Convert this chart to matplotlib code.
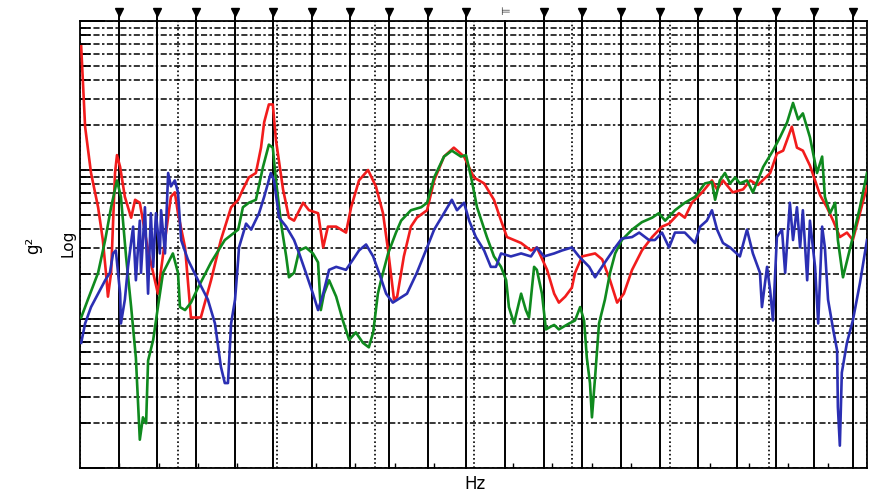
import numpy as np
import matplotlib
matplotlib.use('Agg')
import matplotlib.pyplot as plt
import matplotlib.transforms as mtransforms
from matplotlib.ticker import MultipleLocator, LogLocator, NullFormatter

# spectra: frequency (Hz) and log10(g^2)
red_hz = [3, 8, 13, 28, 46, 58, 66, 71, 79, 89, 94, 102, 114, 130, 140, 152, 173, 198, 216, 231,
          241, 249, 267, 282, 307, 333, 358, 384, 402, 414, 429, 447, 460, 468, 480, 490, 498, 516,
          531, 544, 567, 582, 605, 618, 630, 651, 676, 689, 709, 732, 752, 770, 783, 798, 806, 823,
          841, 856, 882, 900, 925, 950, 976, 1001, 1027, 1052, 1070, 1085, 1121, 1146, 1161, 1187,
          1205, 1217, 1233, 1250, 1258, 1276, 1309, 1327, 1347, 1365, 1382, 1403, 1428, 1454, 1479,
          1497, 1522, 1537, 1555, 1581, 1606, 1619, 1634, 1659, 1685, 1703, 1723, 1754, 1771, 1787,
          1809, 1822, 1837, 1855, 1868, 1881, 1898, 1914, 1931, 1949, 1964, 1982, 2000]
red_log = [-1.17, -1.44, -1.71, -2.02, -2.25, -2.47, -2.69, -2.85, -2.69, -2.02, -1.90, -1.98, -2.18,
           -2.32, -2.20, -2.22, -2.54, -2.83, -2.47, -2.18, -2.15, -2.29, -2.52, -2.99, -2.99, -2.74,
           -2.47, -2.25, -2.20, -2.13, -2.05, -2.02, -1.85, -1.68, -1.56, -1.56, -1.80, -2.13, -2.32,
           -2.34, -2.22, -2.27, -2.29, -2.52, -2.38, -2.38, -2.42, -2.25, -2.07, -2.00, -2.11, -2.29,
           -2.54, -2.87, -2.85, -2.58, -2.38, -2.32, -2.27, -2.07, -1.91, -1.85, -1.91, -2.05, -2.09,
           -2.20, -2.34, -2.45, -2.49, -2.54, -2.52, -2.67, -2.83, -2.89, -2.85, -2.79, -2.69, -2.58,
           -2.56, -2.60, -2.74, -2.89, -2.83, -2.67, -2.54, -2.45, -2.38, -2.36, -2.29, -2.32, -2.22,
           -2.15, -2.07, -2.13, -2.07, -2.15, -2.13, -2.07, -2.10, -2.02, -1.89, -1.87, -1.71, -1.85,
           -1.87, -1.97, -2.07, -2.17, -2.25, -2.34, -2.45, -2.42, -2.47, -2.29, -2.11]

green_hz = [3, 20, 46, 64, 79, 94, 104, 117, 130, 142, 152, 160, 168, 173, 186, 198, 211, 236, 249,
            254, 267, 282, 300, 333, 368, 402, 414, 429, 447, 465, 480, 490, 498, 511, 524, 531, 544,
            557, 574, 592, 605, 612, 620, 633, 651, 668, 684, 701, 719, 734, 745, 757, 765, 783, 803,
            816, 841, 867, 882, 900, 925, 945, 968, 981, 994, 1009, 1034, 1052, 1070, 1083, 1090, 1103,
            1121, 1133, 1141, 1154, 1161, 1174, 1184, 1197, 1205, 1217, 1243, 1258, 1271, 1281, 1288,
            1296, 1301, 1309, 1319, 1334, 1347, 1360, 1377, 1403, 1428, 1454, 1471, 1487, 1512, 1537,
            1563, 1588, 1606, 1614, 1626, 1639, 1652, 1665, 1677, 1695, 1710, 1736, 1761, 1779, 1797,
            1812, 1825, 1837, 1855, 1873, 1886, 1893, 1906, 1919, 1926, 1939, 1952, 1964, 1982, 2000]
green_log = [-2.99, -2.87, -2.69, -2.47, -2.25, -2.07, -2.18, -2.58, -2.92, -3.26, -3.81, -3.66, -3.70,
             -3.28, -3.14, -2.92, -2.69, -2.56, -2.69, -2.92, -2.94, -2.89, -2.79, -2.62, -2.47, -2.40,
             -2.25, -2.22, -2.20, -1.98, -1.83, -1.85, -2.07, -2.36, -2.58, -2.72, -2.69, -2.54, -2.52,
             -2.56, -2.62, -2.94, -2.83, -2.74, -2.85, -3.01, -3.14, -3.09, -3.16, -3.19, -3.09, -2.83,
             -2.74, -2.56, -2.42, -2.34, -2.27, -2.25, -2.22, -2.05, -1.91, -1.87, -1.91, -1.90, -2.05,
             -2.25, -2.45, -2.58, -2.65, -2.74, -2.92, -3.03, -2.83, -2.94, -2.99, -2.65, -2.67, -2.83,
             -3.07, -3.05, -3.04, -3.07, -3.03, -3.01, -2.92, -3.01, -3.26, -3.43, -3.66, -3.39, -3.03,
             -2.87, -2.69, -2.56, -2.47, -2.40, -2.35, -2.32, -2.29, -2.34, -2.27, -2.22, -2.18, -2.09,
             -2.08, -2.20, -2.07, -2.02, -2.09, -2.05, -2.09, -2.07, -2.15, -1.98, -1.87, -1.78, -1.68,
             -1.55, -1.66, -1.62, -1.78, -2.02, -1.91, -2.18, -2.29, -2.22, -2.47, -2.72, -2.58, -2.45,
             -2.25, -2.02]

blue_hz = [3, 13, 28, 46, 64, 76, 84, 91, 102, 104, 114, 122, 135, 142, 152, 155, 165, 173, 180, 186,
           193, 203, 206, 216, 224, 231, 241, 249, 257, 274, 300, 325, 343, 358, 368, 376, 384, 394,
           402, 404, 422, 435, 455, 468, 485, 493, 506, 524, 544, 557, 574, 592, 605, 618, 633, 651,
           676, 694, 709, 727, 745, 760, 778, 795, 831, 856, 882, 900, 925, 945, 958, 976, 989, 1006,
           1027, 1044, 1057, 1070, 1095, 1121, 1146, 1161, 1179, 1205, 1225, 1250, 1268, 1294, 1309,
           1334, 1360, 1377, 1403, 1421, 1446, 1461, 1479, 1497, 1512, 1537, 1563, 1576, 1593, 1606,
           1619, 1634, 1652, 1677, 1695, 1710, 1728, 1733, 1746, 1754, 1761, 1771, 1784, 1792, 1804,
           1812, 1822, 1830, 1837, 1848, 1855, 1868, 1876, 1886, 1893, 1901, 1914, 1924, 1926, 1931,
           1936, 1949, 1964, 1982, 2000]
blue_log = [-3.16, -3.03, -2.92, -2.83, -2.74, -2.69, -2.56, -2.54, -2.83, -3.03, -2.87, -2.65, -2.38,
            -2.74, -2.34, -2.69, -2.25, -2.83, -2.29, -2.65, -2.29, -2.56, -2.27, -2.56, -2.02, -2.11,
            -2.07, -2.15, -2.47, -2.60, -2.74, -2.87, -3.03, -3.32, -3.43, -3.43, -3.03, -2.87, -2.60,
            -2.52, -2.36, -2.40, -2.29, -2.18, -2.02, -2.07, -2.32, -2.38, -2.47, -2.56, -2.69, -2.83,
            -2.94, -2.83, -2.67, -2.65, -2.67, -2.60, -2.54, -2.50, -2.58, -2.69, -2.83, -2.89, -2.83,
            -2.69, -2.52, -2.40, -2.29, -2.20, -2.27, -2.22, -2.34, -2.45, -2.54, -2.65, -2.65, -2.56,
            -2.58, -2.56, -2.58, -2.52, -2.58, -2.56, -2.54, -2.52, -2.58, -2.65, -2.72, -2.62, -2.52,
            -2.46, -2.45, -2.42, -2.47, -2.47, -2.42, -2.52, -2.42, -2.42, -2.49, -2.38, -2.34, -2.27,
            -2.40, -2.49, -2.52, -2.58, -2.40, -2.56, -2.69, -2.92, -2.65, -2.81, -3.01, -2.45, -2.40,
            -2.69, -2.22, -2.47, -2.25, -2.52, -2.27, -2.74, -2.34, -2.65, -3.03, -2.38, -2.52, -2.87,
            -3.07, -3.21, -3.59, -3.85, -3.36, -3.16, -3.01, -2.76, -2.47]

# harmonic cursors (Hz); the 11th one carries the active-cursor flag
cursors = [98, 196, 295, 393, 491, 589, 687, 786, 884, 982, 1080, 1178, 1277, 1375, 1473, 1571,
           1669, 1768, 1866, 1964]
active = 1080

fig = plt.figure(figsize=(8.75, 4.96), dpi=100)
ax = fig.add_axes([80 / 875, 28 / 496, 787 / 875, 447 / 496])

ax.set_yscale('log')
ax.set_xlim(0, 2000)
ax.set_ylim(1e-4, 1e-1)

ax.yaxis.set_major_locator(LogLocator(base=10))
ax.yaxis.set_minor_locator(LogLocator(base=10, subs=np.arange(2, 10)))
ax.yaxis.set_minor_formatter(NullFormatter())
ax.xaxis.set_major_locator(MultipleLocator(250))
ax.xaxis.set_minor_locator(MultipleLocator(100))

ax.yaxis.grid(True, which='both', color='black', lw=1.1, ls=(0, (4, 1.6, 1.6, 1.6)))
ax.xaxis.grid(True, which='major', color='black', lw=1.2, ls=(0, (1, 1.5)))

ax.tick_params(axis='both', which='both', direction='in', labelleft=False, labelbottom=False,
               colors='black')
ax.tick_params(axis='y', which='major', length=18, width=1.3)
ax.tick_params(axis='y', which='minor', length=7, width=1.3)
ax.tick_params(axis='x', which='major', length=0)
ax.tick_params(axis='x', which='minor', length=3.5, width=1)

for s in ax.spines.values():
    s.set_linewidth(1.3)
    s.set_color('black')

trans = mtransforms.blended_transform_factory(ax.transData, ax.transAxes)
for c in cursors:
    top = 1.0 if c == active else 1.02
    ax.plot([c, c], [0, top], color='black', lw=1.4, transform=trans, clip_on=False, zorder=2)
tri = [c for c in cursors if c != active]
ax.plot(tri, [1.02] * len(tri), ls='none', marker='v', color='black', ms=6,
        transform=trans, clip_on=False, zorder=4)
ax.text(active, 1.008, '\u22a8', transform=trans, ha='center', va='bottom', fontsize=8,
        color='#333333')

ax.plot(red_hz, 10 ** np.array(red_log), color='#f21c1c', lw=1.9, zorder=3)
ax.plot(green_hz, 10 ** np.array(green_log), color='#0f8a1e', lw=1.9, zorder=3)
ax.plot(blue_hz, 10 ** np.array(blue_log), color='#2b2fb3', lw=1.9, zorder=3)

fig.text(33 / 875, 1 - 245 / 496, 'g\u00b2', rotation=90, ha='center', va='center', fontsize=12)
fig.text(68 / 875, 1 - 243 / 496, 'Log', rotation=90, ha='center', va='center', fontsize=11)
fig.text(475 / 875, 1 - 484 / 496, 'Hz', ha='center', va='center', fontsize=12)

plt.savefig('out.png', dpi=100)
